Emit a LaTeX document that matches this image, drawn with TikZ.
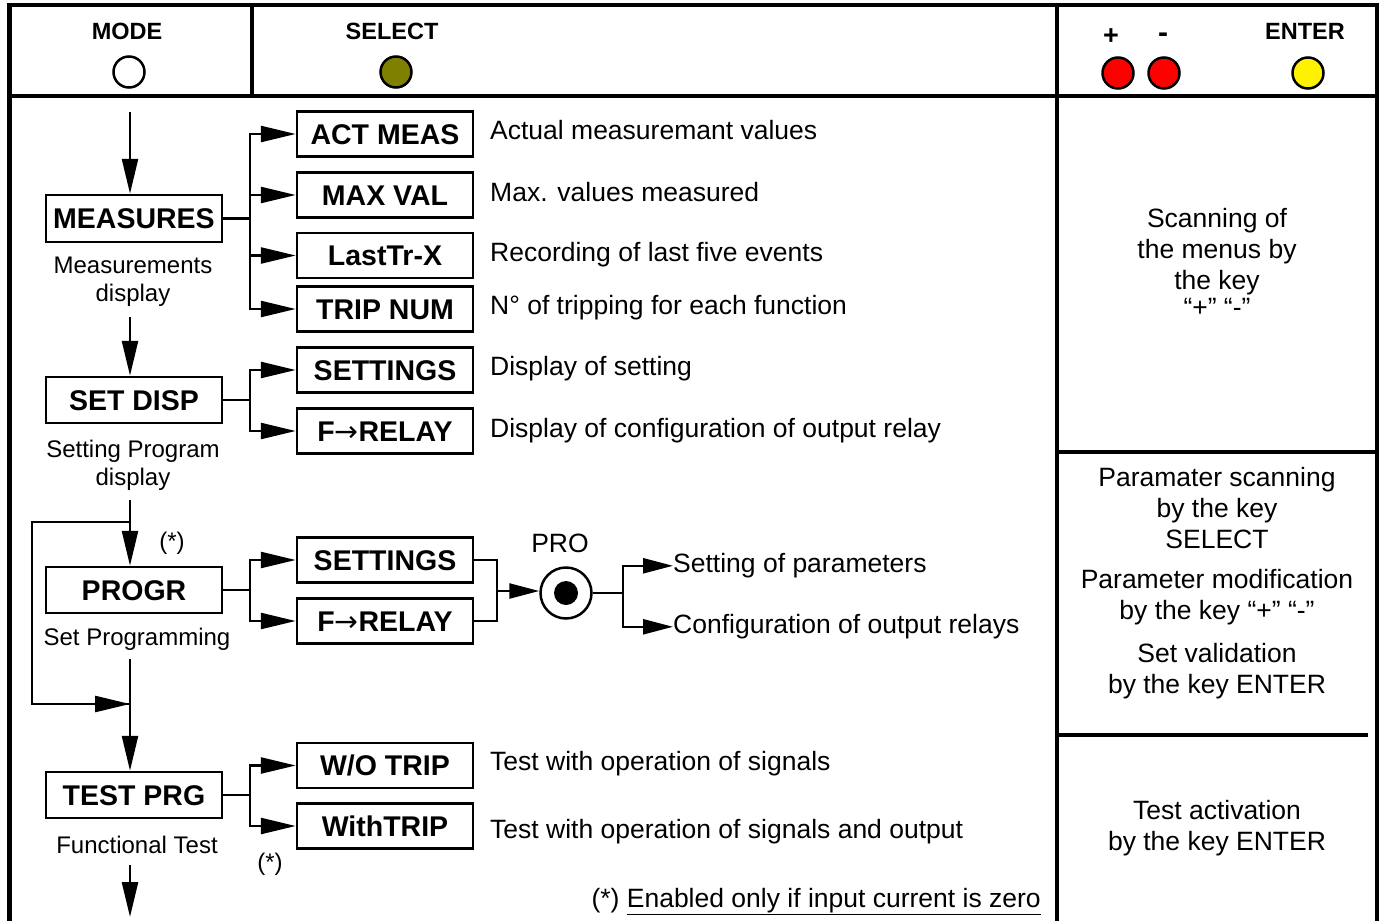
\documentclass[tikz,border=0pt]{standalone}
\usepackage{fontspec}
\setmainfont{Liberation Sans}
\newfontfamily\arrfont{DejaVu Sans}
\usetikzlibrary{arrows.meta}
\begin{document}
\begin{tikzpicture}[x=1pt,y=-1pt,
 frame/.style={line width=4.5pt},
 box/.style={draw, line width=2.5pt, minimum width=176pt, minimum height=46pt, inner sep=0pt, font=\bfseries\fontsize{28.5}{30}\selectfont, text height=20.5pt, text depth=0pt},
 conn/.style={line width=2.5pt},
 arr/.style={line width=2.5pt, -{Triangle[length=35pt,width=16pt]}},
 sarr/.style={line width=2.5pt, -{Triangle[length=30pt,width=15pt]}},
 desc/.style={anchor=mid west, inner sep=0pt, font=\fontsize{26.5}{31}\selectfont},
 sub/.style={align=center, inner sep=0pt, font=\fontsize{24}{28}\selectfont},
 rtext/.style={align=center, inner sep=0pt, font=\fontsize{26.5}{31}\selectfont},
 hdr/.style={inner sep=0pt, font=\bfseries\fontsize{23.5}{26}\selectfont},
 key/.style={circle, draw, line width=2.5pt, minimum size=31pt, inner sep=0pt},
]
\useasboundingbox (0,0) rectangle (1382,921);
\fill[white] (0,0) rectangle (1382,921);
\definecolor{olivekey}{HTML}{808000}
% frame
\draw[frame] (9.5,921) -- (9.5,5) -- (1377,5) -- (1377,921);
\draw[frame] (9.5,96) -- (1377,96);
\draw[frame] (252,5) -- (252,96);
\draw[frame] (1057,5) -- (1057,921);
\draw[frame] (1057,452) -- (1377,452);
\draw[frame] (1057,735) -- (1368,735);
% header
\node[hdr] (hmode) at (127,31) {MODE};
\node[key, fill=white] (kmode) at (129,72) {};
\node[hdr] (hsel) at (392,31) {SELECT};
\node[key, fill=olivekey] (ksel) at (396,72) {};
\node[hdr, font=\bfseries\fontsize{27}{28}\selectfont] (hplus) at (1111,37) {+};
\node[hdr, font=\bfseries\fontsize{30}{30}\selectfont] (hminus) at (1163,38) {-};
\node[key, fill=red] (kplus) at (1118,73) {};
\node[key, fill=red] (kminus) at (1164,73) {};
\node[hdr] (hent) at (1305,31) {ENTER};
\node[key, fill=yellow] (kent) at (1308,73) {};
% main column boxes
\node[box, minimum height=47pt] (meas) at (134,218.5) {MEASURES};
\node[box] (setd) at (134,400) {SET DISP};
\node[box] (progr) at (134,590) {PROGR};
\node[box] (test) at (134,795) {TEST PRG};
\node[sub] (tmeas) at (133,282) {Measurements\\display};
\node[sub] (tsetd) at (133,465) {Setting Program\\display};
\node[sub] (tprogr) at (137,639) {Set Programming};
\node[sub] (ttest) at (137,845) {Functional Test};
\node[sub] (star1) at (172,543) {(*)};
\node[sub] (star2) at (270,864) {(*)};
% sub boxes
\node[box, minimum height=45pt] (act) at (385,134) {ACT MEAS};
\node[box, minimum height=45pt] (maxv) at (385,195) {MAX VAL};
\node[box, minimum height=45pt] (last) at (385,255.5) {LastTr-X};
\node[box, minimum height=45pt] (trip) at (385,309) {TRIP NUM};
\node[box, minimum height=45pt] (sett1) at (385,370) {SETTINGS};
\node[box, minimum height=45pt] (rel1) at (385,431) {F{\arrfont\mdseries →}RELAY};
\node[box, minimum height=45pt] (sett2) at (385,560) {SETTINGS};
\node[box, minimum height=45pt] (rel2) at (385,621) {F{\arrfont\mdseries →}RELAY};
\node[box, minimum height=45pt] (wo) at (385,765.5) {W/O TRIP};
\node[box, minimum height=45pt] (with) at (385,826) {WithTRIP};
% descriptions
\node[desc] (d1) at (490,137) {Actual measuremant values};
\node[desc] (d2) at (490,199) {Max. values measured};
\node[desc] (d3) at (490,259) {Recording of last five events};
\node[desc] (d4) at (490,312) {N° of tripping for each function};
\node[desc] (d5) at (490,373) {Display of setting};
\node[desc] (d6) at (490,435) {Display of configuration of output relay};
\node[desc] (d7) at (490,768) {Test with operation of signals};
\node[desc] (d8) at (490,836) {Test with operation of signals and output};
\node[desc, anchor=mid east] (note) at (1041,905) {(*) \underline{Enabled only if input current is zero}};
% PRO
\node[desc, anchor=center] (pro) at (560,543) {PRO};
\node[circle, draw, line width=2.5pt, minimum size=51pt, inner sep=0pt] (proc) at (566,593) {};
\fill (proc.center) circle (12pt);
\node[desc] (p1) at (673,570) {Setting of parameters};
\node[desc] (p2) at (673,631) {Configuration of output relays};
% right column texts
\node[rtext] (r1) at (1217,252) {Scanning of\\the menus by\\the key};
\node[rtext, anchor=base] (r1b) at (1217,316) {“+” “-”};
\node[rtext] (r2) at (1217,508) {Paramater scanning\\by the key\\SELECT};
\node[rtext] (r3) at (1217,597) {Parameter modification\\by the key “+” “-”};
\node[rtext] (r4) at (1217,671) {Set validation\\by the key ENTER};
\node[rtext] (r5) at (1217,828) {Test activation\\by the key ENTER};
% main flow
\coordinate (s0) at (130,112);
\coordinate (s1) at (130,317);
\coordinate (s2) at (130,500);
\coordinate (s3) at (130,659);
\coordinate (s4) at (130,865);
\coordinate (e4) at (130,917);
\coordinate (la) at (130,522);
\coordinate (lb) at (32,522);
\coordinate (lc) at (32,704);
\coordinate (ld) at (130,704);
\draw[arr] (s0) -- (s0 |- meas.north);
\draw[arr] (s1) -- (s1 |- setd.north);
\draw[arr] (s2) -- (s2 |- progr.north);
\draw[conn] (la) -- (lb) -- (lc) -- (ld);
\draw[arr] (lc) -- (ld);
\draw[arr] (s3) -- (s3 |- test.north);
\draw[arr] (s4) -- (e4);
% branches
\coordinate (b1) at (250,218.5);
\draw[conn] (meas.east) -- (b1);
\foreach \n in {act,maxv,last,trip} \draw[arr] (b1) |- (\n.west);
\coordinate (b2) at (250,400);
\draw[conn] (setd.east) -- (b2);
\foreach \n in {sett1,rel1} \draw[arr] (b2) |- (\n.west);
\coordinate (b3) at (250,590);
\draw[conn] (progr.east) -- (b3);
\foreach \n in {sett2,rel2} \draw[arr] (b3) |- (\n.west);
\coordinate (b4) at (250,795);
\draw[conn] (test.east) -- (b4);
\foreach \n in {wo,with} \draw[arr] (b4) |- (\n.west);
% PRO connections
\coordinate (m1) at (497,591);
\draw[conn] (sett2.east) -| (m1);
\draw[conn] (rel2.east) -| (m1);
\draw[sarr] (m1) -- (proc.west |- m1);
\coordinate (m2) at (623,593);
\draw[conn] (proc.east) -- (m2);
\draw[sarr] (m2) |- (p1.west);
\draw[sarr] (m2) |- (p2.west);
\end{tikzpicture}
\end{document}
